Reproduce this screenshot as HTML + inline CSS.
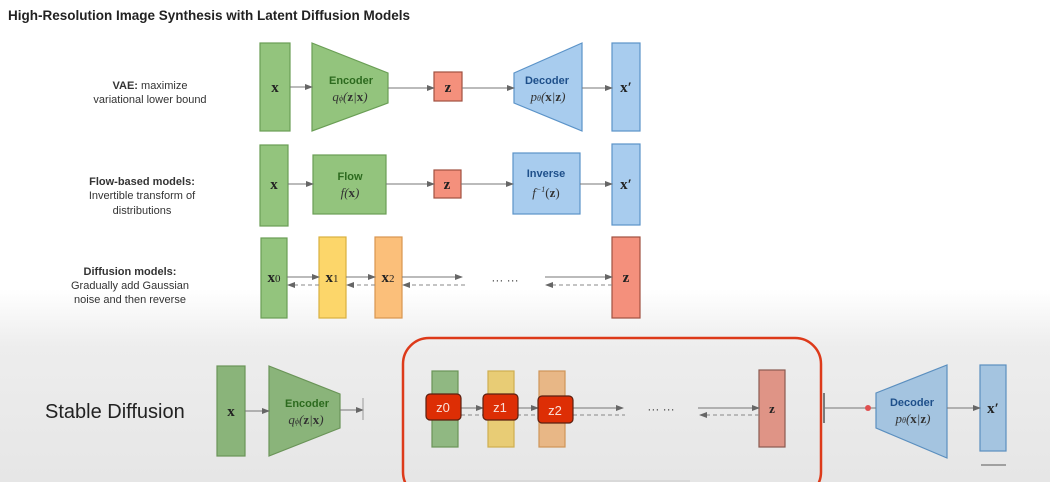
<!DOCTYPE html>
<html><head><meta charset="utf-8"><style>
body{margin:0;width:1050px;height:482px;overflow:hidden;font-family:"Liberation Sans",sans-serif}
</style></head><body>
<svg width="1050" height="482" viewBox="0 0 1050 482" xmlns="http://www.w3.org/2000/svg">
<defs>
<linearGradient id="bg" x1="0" y1="0" x2="0" y2="1">
<stop offset="0" stop-color="#ffffff"/><stop offset="0.6" stop-color="#ffffff"/><stop offset="0.72" stop-color="#ededed"/><stop offset="1" stop-color="#e6e6e6"/>
</linearGradient>
<marker id="ah" markerWidth="8" markerHeight="6" refX="7" refY="3" orient="auto" markerUnits="userSpaceOnUse"><path d="M0,0 L8,3 L0,6z" fill="#666"/></marker>
</defs>
<rect width="1050" height="482" fill="url(#bg)"/>
<text x="8" y="20" font-size="13.5" font-weight="bold" fill="#222">High-Resolution Image Synthesis with Latent Diffusion Models</text>

<g font-size="11" fill="#333" text-anchor="middle">
<text x="150" y="89"><tspan font-weight="bold">VAE:</tspan> maximize</text>
<text x="150" y="103">variational lower bound</text>
<text x="142" y="185" font-weight="bold">Flow-based models:</text>
<text x="142" y="199">Invertible transform of</text>
<text x="142" y="214">distributions</text>
<text x="130" y="275" font-weight="bold">Diffusion models:</text>
<text x="130" y="289">Gradually add Gaussian</text>
<text x="130" y="303">noise and then reverse</text>
</g>

<g stroke-width="1.2">
<rect x="260" y="43" width="30" height="88" fill="#93c47d" stroke="#6a9e55"/>
<polygon points="312,43 388,73 388,103 312,131" fill="#93c47d" stroke="#6a9e55"/>
<rect x="434" y="72" width="28" height="29" fill="#f4907c" stroke="#a05040"/>
<polygon points="514,73 582,43 582,131 514,103" fill="#a8ccee" stroke="#5b93c8"/>
<rect x="612" y="43" width="28" height="88" fill="#a8ccee" stroke="#5b93c8"/>
<rect x="260" y="145" width="28" height="81" fill="#93c47d" stroke="#6a9e55"/>
<rect x="313" y="155" width="73" height="59" fill="#93c47d" stroke="#6a9e55"/>
<rect x="434" y="170" width="27" height="28" fill="#f4907c" stroke="#a05040"/>
<rect x="513" y="153" width="67" height="61" fill="#a8ccee" stroke="#5b93c8"/>
<rect x="612" y="144" width="28" height="81" fill="#a8ccee" stroke="#5b93c8"/>
<rect x="261" y="238" width="26" height="80" fill="#93c47d" stroke="#6a9e55"/>
<rect x="319" y="237" width="27" height="81" fill="#fcd66a" stroke="#d9b040"/>
<rect x="375" y="237" width="27" height="81" fill="#fbbf7a" stroke="#d89550"/>
<rect x="612" y="237" width="28" height="81" fill="#f4907c" stroke="#a05040"/>
</g>
<g stroke="#777" stroke-width="1" marker-end="url(#ah)">
<line x1="290" y1="87" x2="312" y2="87"/>
<line x1="388" y1="88" x2="434" y2="88"/>
<line x1="462" y1="88" x2="514" y2="88"/>
<line x1="582" y1="88" x2="612" y2="88"/>
<line x1="288" y1="184" x2="313" y2="184"/>
<line x1="386" y1="184" x2="434" y2="184"/>
<line x1="461" y1="184" x2="513" y2="184"/>
<line x1="580" y1="184" x2="612" y2="184"/>
<line x1="287" y1="277" x2="319" y2="277"/>
<line x1="346" y1="277" x2="375" y2="277"/>
<line x1="402" y1="277" x2="462" y2="277"/>
<line x1="545" y1="277" x2="612" y2="277"/>
</g>
<g stroke="#888" stroke-width="1" stroke-dasharray="4,3" marker-end="url(#ah)">
<line x1="319" y1="285" x2="288" y2="285"/>
<line x1="375" y1="285" x2="347" y2="285"/>
<line x1="465" y1="285" x2="403" y2="285"/>
<line x1="612" y1="285" x2="546" y2="285"/>
</g>
<g font-family="Liberation Serif,serif" font-weight="bold" fill="#222" font-size="15" text-anchor="middle">
<text x="275" y="92">x</text><text x="448" y="92">z</text><text x="626" y="92">x′</text>
<text x="274" y="189">x</text><text x="447" y="189">z</text><text x="626" y="189">x′</text>
<text x="274" y="282">x<tspan font-size="11" font-weight="normal">0</tspan></text>
<text x="332" y="282">x<tspan font-size="11" font-weight="normal">1</tspan></text>
<text x="388" y="282">x<tspan font-size="11" font-weight="normal">2</tspan></text>
<text x="626" y="282">z</text>
</g>
<text x="505" y="284" font-size="12" fill="#444" text-anchor="middle">··· ···</text>
<g text-anchor="middle">
<text x="351" y="84" font-size="11" font-weight="bold" fill="#2c6a1e">Encoder</text>
<text x="350" y="101" font-size="13" font-family="Liberation Serif,serif" font-style="italic" fill="#333">q<tspan font-size="8">ϕ</tspan>(<tspan font-weight="bold" font-style="normal">z</tspan>|<tspan font-weight="bold" font-style="normal">x</tspan>)</text>
<text x="547" y="84" font-size="11" font-weight="bold" fill="#1e4f8a">Decoder</text>
<text x="548" y="101" font-size="13" font-family="Liberation Serif,serif" font-style="italic" fill="#333">p<tspan font-size="8">θ</tspan>(<tspan font-weight="bold" font-style="normal">x</tspan>|<tspan font-weight="bold" font-style="normal">z</tspan>)</text>
<text x="350" y="180" font-size="11" font-weight="bold" fill="#2c6a1e">Flow</text>
<text x="350" y="197" font-size="13" font-family="Liberation Serif,serif" font-style="italic" fill="#333">f(<tspan font-weight="bold" font-style="normal">x</tspan>)</text>
<text x="546" y="177" font-size="11" font-weight="bold" fill="#1e4f8a">Inverse</text>
<text x="546" y="197" font-size="13" font-family="Liberation Serif,serif" font-style="italic" fill="#333">f<tspan font-size="8" dy="-5">−1</tspan><tspan dy="5" font-style="normal">(</tspan><tspan font-weight="bold" font-style="normal">z</tspan><tspan font-style="normal">)</tspan></text>
</g>

<text x="45" y="418" font-size="20" fill="#222">Stable Diffusion</text>
<g stroke-width="1.2">
<rect x="217" y="366" width="28" height="90" fill="#8ab47a" stroke="#6a9458"/>
<polygon points="269,366 340,394 340,428 269,456" fill="#8ab47a" stroke="#6a9458"/>
<rect x="403" y="338" width="418" height="160" rx="26" fill="none" stroke="#dd3a1a" stroke-width="2.5"/>
<rect x="432" y="371" width="26" height="76" fill="#90b882" stroke="#6a9458"/>
<rect x="488" y="371" width="26" height="76" fill="#e8cc75" stroke="#cfae50"/>
<rect x="539" y="371" width="26" height="76" fill="#e8b786" stroke="#cf9558"/>
<rect x="759" y="370" width="26" height="77" fill="#df9486" stroke="#8a5a50"/>
<polygon points="876,393 947,365 947,458 876,428" fill="#a4c4e0" stroke="#5b8fbf"/>
<rect x="980" y="365" width="26" height="86" fill="#a4c4e0" stroke="#5b8fbf"/>
</g>
<g stroke="#777" stroke-width="1" marker-end="url(#ah)">
<line x1="245" y1="411" x2="269" y2="411"/>
<line x1="340" y1="410" x2="363" y2="410"/>
<line x1="461" y1="408" x2="483" y2="408"/>
<line x1="518" y1="408" x2="538" y2="408"/>
<line x1="573" y1="408" x2="623" y2="408"/>
<line x1="698" y1="408" x2="759" y2="408"/>
<line x1="947" y1="408" x2="980" y2="408"/>
</g>
<line x1="363" y1="398" x2="363" y2="420" stroke="#999"/>
<g stroke="#888" stroke-width="1" stroke-dasharray="4,3">
<line x1="461" y1="415" x2="625" y2="415"/>
<line x1="759" y1="415" x2="700" y2="415" marker-end="url(#ah)"/>
</g>
<line x1="824" y1="393" x2="824" y2="423" stroke="#555" stroke-width="1.5"/>
<line x1="824" y1="408" x2="876" y2="408" stroke="#777"/>
<circle cx="868" cy="408" r="3" fill="#e05050"/>
<g stroke="#5a2010" stroke-width="1.2" fill="#dd2e05">
<rect x="426" y="394" width="35" height="26" rx="4"/>
<rect x="483" y="394" width="35" height="26" rx="4"/>
<rect x="538" y="396" width="35" height="27" rx="4"/>
</g>
<g font-size="13" fill="#fff" text-anchor="middle" opacity="0.85">
<text x="443" y="412">z0</text><text x="500" y="412">z1</text><text x="555" y="415">z2</text>
</g>
<text x="661" y="413" font-size="12" fill="#444" text-anchor="middle">··· ···</text>
<g font-family="Liberation Serif,serif" font-weight="bold" fill="#222" text-anchor="middle">
<text x="231" y="416" font-size="15">x</text>
<text x="772" y="413" font-size="13">z</text>
<text x="993" y="413" font-size="15">x′</text>
</g>
<text x="307" y="407" font-size="11" font-weight="bold" fill="#2c6a1e" text-anchor="middle">Encoder</text>
<text x="306" y="424" font-size="13" font-family="Liberation Serif,serif" font-style="italic" fill="#333" text-anchor="middle">q<tspan font-size="8">ϕ</tspan>(<tspan font-weight="bold" font-style="normal">z</tspan>|<tspan font-weight="bold" font-style="normal">x</tspan>)</text>
<text x="912" y="406" font-size="11" font-weight="bold" fill="#1e4f8a" text-anchor="middle">Decoder</text>
<text x="913" y="423" font-size="13" font-family="Liberation Serif,serif" font-style="italic" fill="#333" text-anchor="middle">p<tspan font-size="8">θ</tspan>(<tspan font-weight="bold" font-style="normal">x</tspan>|<tspan font-weight="bold" font-style="normal">z</tspan>)</text>
<line x1="981" y1="465" x2="1006" y2="465" stroke="#888" stroke-width="1.5"/>
<line x1="430" y1="481" x2="690" y2="481" stroke="#ccc"/>
</svg>
</body></html>
